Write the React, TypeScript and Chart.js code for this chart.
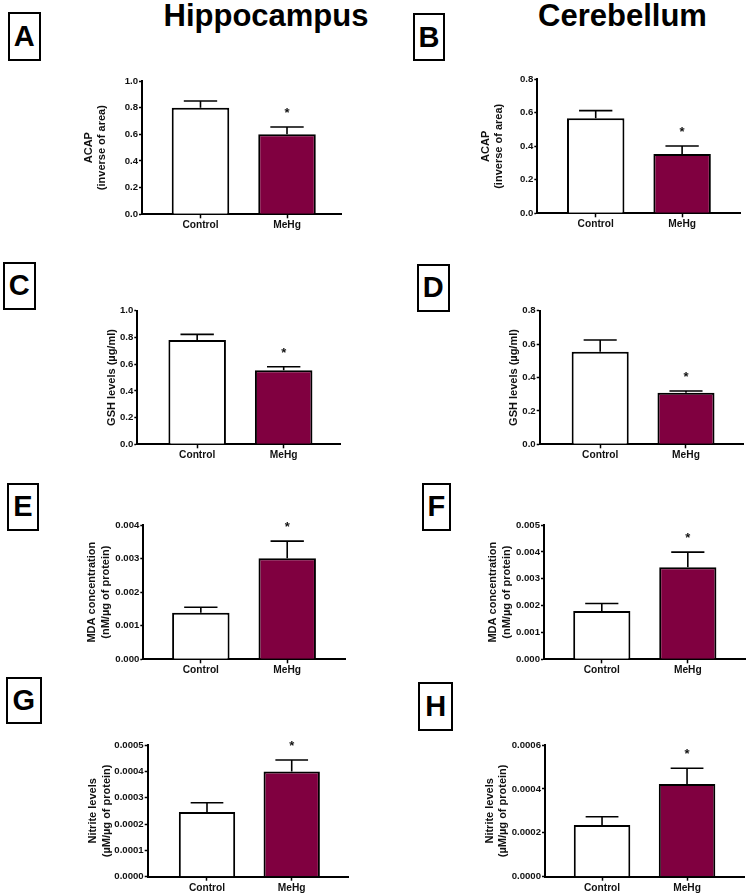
import React, { useEffect, useRef } from "react";
import { Chart, registerables } from "chart.js";

Chart.register(...registerables);

const FONT = "'Liberation Sans', Arial, Helvetica, sans-serif";

// ---------- data ----------
const categories = ["Control", "MeHg"];
const categoryPositions = [1, 2];
const significant = [false, true];

// A – ACAP, hippocampus
const acapHippocampus = [0.8, 0.6];
const acapHippocampusSem = [0.05, 0.055];
const acapHippocampusTicks = [0, 0.2, 0.4, 0.6, 0.8, 1.0];
// B – ACAP, cerebellum
const acapCerebellum = [0.567, 0.354];
const acapCerebellumSem = [0.046, 0.048];
const acapCerebellumTicks = [0, 0.2, 0.4, 0.6, 0.8];
// C – GSH, hippocampus
const gshHippocampus = [0.78, 0.554];
const gshHippocampusSem = [0.043, 0.027];
const gshHippocampusTicks = [0, 0.2, 0.4, 0.6, 0.8, 1.0];
// D – GSH, cerebellum
const gshCerebellum = [0.554, 0.309];
const gshCerebellumSem = [0.071, 0.01];
const gshCerebellumTicks = [0, 0.2, 0.4, 0.6, 0.8];
// E – MDA, hippocampus
const mdaHippocampus = [0.00139, 0.00301];
const mdaHippocampusSem = [0.00016, 0.00051];
const mdaHippocampusTicks = [0, 0.001, 0.002, 0.003, 0.004];
// F – MDA, cerebellum
const mdaCerebellum = [0.0018, 0.00343];
const mdaCerebellumSem = [0.00028, 0.00056];
const mdaCerebellumTicks = [0, 0.001, 0.002, 0.003, 0.004, 0.005];
// G – Nitrite, hippocampus
const nitriteHippocampus = [0.000246, 0.000399];
const nitriteHippocampusSem = [0.000035, 0.000044];
const nitriteHippocampusTicks = [0, 0.0001, 0.0002, 0.0003, 0.0004, 0.0005];
// H – Nitrite, cerebellum
const nitriteCerebellum = [0.000236, 0.000422];
const nitriteCerebellumSem = [0.000037, 0.000072];
const nitriteCerebellumTicks = [0, 0.0002, 0.0004, 0.0006];

const columnTitles = ["Hippocampus", "Cerebellum"];

// ---------- layout ----------
type Panel = {
  letter: string;
  values: number[];
  sem: number[];
  ticks: number[];
  decimals: number;
  yTitle: string | string[];
  col: number;
  area: { l: number; t: number; r: number; b: number };
  xRange: [number, number];
  titleX: number;
  box: { x: number; y: number; w: number; h: number };
};

const panels: Panel[] = [
  { letter: "A", values: acapHippocampus, sem: acapHippocampusSem, ticks: acapHippocampusTicks, decimals: 1,
    yTitle: ["ACAP", "(inverse of area)"], col: 0, area: { l: 142, t: 81, r: 341, b: 214.3 },
    xRange: [0.324, 2.624], titleX: 88.6, box: { x: 8, y: 12.3, w: 32.7, h: 48.7 } },
  { letter: "B", values: acapCerebellum, sem: acapCerebellumSem, ticks: acapCerebellumTicks, decimals: 1,
    yTitle: ["ACAP", "(inverse of area)"], col: 1, area: { l: 537.3, t: 79.3, r: 740, b: 213.3 },
    xRange: [0.324, 2.67], titleX: 485.6, box: { x: 413, y: 13, w: 32, h: 48 } },
  { letter: "C", values: gshHippocampus, sem: gshHippocampusSem, ticks: gshHippocampusTicks, decimals: 1,
    yTitle: "GSH levels (µg/ml)", col: 0, area: { l: 137.3, t: 310.7, r: 340.7, b: 444.3 },
    xRange: [0.308, 2.659], titleX: 111.7, box: { x: 2.7, y: 261.7, w: 33, h: 48.3 } },
  { letter: "D", values: gshCerebellum, sem: gshCerebellumSem, ticks: gshCerebellumTicks, decimals: 1,
    yTitle: "GSH levels (µg/ml)", col: 1, area: { l: 539.7, t: 310.7, r: 743.3, b: 444.3 },
    xRange: [0.295, 2.668], titleX: 514, box: { x: 416.7, y: 264, w: 33.3, h: 47.7 } },
  { letter: "E", values: mdaHippocampus, sem: mdaHippocampusSem, ticks: mdaHippocampusTicks, decimals: 3,
    yTitle: ["MDA concentration", "(nM/µg of protein)"], col: 0, area: { l: 143.3, t: 525, r: 345, b: 659.3 },
    xRange: [0.334, 2.669], titleX: 92, box: { x: 6.7, y: 482.7, w: 32.3, h: 48 } },
  { letter: "F", values: mdaCerebellum, sem: mdaCerebellumSem, ticks: mdaCerebellumTicks, decimals: 3,
    yTitle: ["MDA concentration", "(nM/µg of protein)"], col: 1, area: { l: 544, t: 525, r: 745.7, b: 659.3 },
    xRange: [0.328, 2.673], titleX: 492.9, box: { x: 421.7, y: 483.3, w: 29.5, h: 47.4 } },
  { letter: "G", values: nitriteHippocampus, sem: nitriteHippocampusSem, ticks: nitriteHippocampusTicks, decimals: 4,
    yTitle: ["Nitrite levels", "(µM/µg of protein)"], col: 0, area: { l: 147.7, t: 745, r: 348.3, b: 876.7 },
    xRange: [0.3, 2.668], titleX: 93.1, box: { x: 6, y: 676.7, w: 35.7, h: 47.6 } },
  { letter: "H", values: nitriteCerebellum, sem: nitriteCerebellumSem, ticks: nitriteCerebellumTicks, decimals: 4,
    yTitle: ["Nitrite levels", "(µM/µg of protein)"], col: 1, area: { l: 545, t: 745, r: 744, b: 876.7 },
    xRange: [0.329, 2.67], titleX: 489.6, box: { x: 418.3, y: 681.7, w: 35, h: 49.3 } },
];

const COL_W = 374;
const X_SCALE_H = 22;
const TITLE_LH = 13.75;

function geometry(p: Panel) {
  const cLeft = p.col * COL_W;
  const cTop = Math.floor(p.area.t) - 16;
  const cH = Math.ceil(p.area.b - cTop) + 26;
  return { cLeft, cTop, cH };
}

function BarPanel({ p }: { p: Panel }) {
  const ref = useRef<HTMLCanvasElement | null>(null);
  const { cLeft, cTop, cH } = geometry(p);

  useEffect(() => {
    if (!ref.current) return;
    const errorPlugin = {
      id: "errorBars",
      afterDatasetsDraw(chart: any) {
        const ctx = chart.ctx;
        const meta = chart.getDatasetMeta(0);
        const yScale = chart.scales.y;
        meta.data.forEach((bar: any, i: number) => {
          const top = yScale.getPixelForValue(p.values[i] + p.sem[i]);
          const x = bar.x;
          const half = bar.width * 0.29;
          ctx.save();
          ctx.strokeStyle = "#000";
          ctx.lineWidth = 1.6;
          ctx.beginPath();
          ctx.moveTo(x, bar.y);
          ctx.lineTo(x, top);
          ctx.moveTo(x - half, top);
          ctx.lineTo(x + half, top);
          ctx.stroke();
          if (significant[i]) {
            ctx.fillStyle = "#111";
            ctx.font = `bold 13px ${FONT}`;
            ctx.textAlign = "center";
            ctx.textBaseline = "alphabetic";
            ctx.fillText("*", x, top - 17.5 + 7.5);
          }
          ctx.restore();
        });
      },
    };

    const chart = new Chart(ref.current, {
      type: "bar",
      data: {
        datasets: [
          {
            data: categoryPositions.map((x, i) => ({ x, y: p.values[i] })),
            backgroundColor: ["#ffffff", "#800040"],
            borderColor: "#000000",
            borderWidth: 2,
            borderSkipped: "start",
            categoryPercentage: 1,
            barPercentage: 0.665,
          } as any,
        ],
      },
      options: {
        animation: false,
        responsive: false,
        maintainAspectRatio: false,
        devicePixelRatio: 1,
        layout: {
          padding: {
            left: 0,
            top: p.area.t - cTop,
            right: cLeft + COL_W - p.area.r,
            bottom: cH - (p.area.b - cTop) - X_SCALE_H,
          },
        },
        plugins: { legend: { display: false }, tooltip: { enabled: false } },
        scales: {
          x: {
            type: "linear",
            min: p.xRange[0],
            max: p.xRange[1],
            offset: false,
            afterBuildTicks: (s: any) => {
              s.ticks = categoryPositions.map((v) => ({ value: v }));
            },
            afterFit: (s: any) => {
              s.height = X_SCALE_H;
            },
            grid: {
              display: true,
              offset: false,
              drawOnChartArea: false,
              drawTicks: true,
              tickLength: 4,
              tickColor: "#000",
              tickWidth: 1.5,
            },
            border: { display: true, color: "#000", width: 2 },
            ticks: {
              autoSkip: false,
              maxRotation: 0,
              padding: 1,
              color: "#111",
              font: { family: FONT, size: 10.2, weight: "bold" },
              callback: (v: any) => {
                const idx = categoryPositions.indexOf(Number(v));
                return idx >= 0 ? categories[idx] : "";
              },
            },
          } as any,
          y: {
            type: "linear",
            min: p.ticks[0],
            max: p.ticks[p.ticks.length - 1],
            afterBuildTicks: (s: any) => {
              s.ticks = p.ticks.map((v) => ({ value: v }));
            },
            afterFit: (s: any) => {
              s.width = p.area.l - cLeft;
            },
            grid: {
              display: true,
              drawOnChartArea: false,
              drawTicks: true,
              tickLength: 3,
              tickColor: "#000",
              tickWidth: 1.5,
            },
            border: { display: true, color: "#000", width: 2 },
            ticks: {
              autoSkip: false,
              padding: 1,
              color: "#111",
              font: { family: FONT, size: 9.6, weight: "bold" },
              callback: (v: any) => Number(v).toFixed(p.decimals),
            },
            title: {
              display: true,
              text: p.yTitle,
              color: "#111",
              font: { family: FONT, size: 11, weight: "bold", lineHeight: TITLE_LH / 11 },
              padding: { top: p.titleX - cLeft - TITLE_LH / 2, bottom: 0 },
            },
          } as any,
        },
      },
      plugins: [errorPlugin],
    });
    return () => chart.destroy();
  }, []);

  return (
    <canvas
      ref={ref}
      width={COL_W}
      height={cH}
      style={{ position: "absolute", left: cLeft, top: cTop, width: COL_W, height: cH }}
    />
  );
}

export default function App() {
  return (
    <div
      style={{
        position: "absolute",
        left: 0,
        top: 0,
        width: 748,
        height: 895,
        overflow: "hidden",
        background: "#ffffff",
        fontFamily: FONT,
      }}
    >
      {columnTitles.map((t, i) => (
        <div
          key={t}
          style={{
            position: "absolute",
            left: i === 0 ? 266 : 622.5,
            top: 0,
            transform: "translateX(-50%)",
            whiteSpace: "nowrap",
            fontSize: 31,
            lineHeight: "31px",
            fontWeight: "bold",
            color: "#000",
          }}
        >
          {t}
        </div>
      ))}
      {panels.map((p) => (
        <div
          key={"box" + p.letter}
          style={{
            position: "absolute",
            left: p.box.x,
            top: p.box.y,
            width: p.box.w,
            height: p.box.h,
            boxSizing: "border-box",
            border: "2px solid #000",
            display: "flex",
            alignItems: "center",
            justifyContent: "center",
            fontSize: 29,
            lineHeight: "29px",
            fontWeight: "bold",
            color: "#000",
          }}
        >
          {p.letter}
        </div>
      ))}
      {panels.map((p) => (
        <BarPanel key={p.letter} p={p} />
      ))}
    </div>
  );
}
